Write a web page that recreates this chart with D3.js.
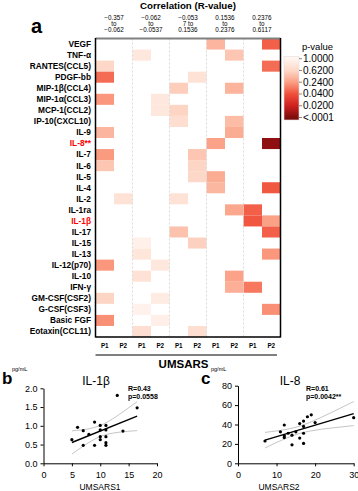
<!DOCTYPE html>
<html>
<head>
<meta charset="utf-8">
<script src="https://cdn.jsdelivr.net/npm/d3@7"></script>
<style>
body { margin: 0; background: #fff; }
svg { display: block; font-family: "Liberation Sans", Arial, sans-serif; }
</style>
</head>
<body>
<div id="chart"></div>
<script>
// rows of the heatmap, top to bottom
const cytokines = ["VEGF","TNF-α","RANTES(CCL5)","PDGF-bb","MIP-1β(CCL4)","MIP-1α(CCL3)","MCP-1(CCL2)","IP-10(CXCL10)","IL-9","IL-8**","IL-7","IL-6","IL-5","IL-4","IL-2","IL-1ra","IL-1β","IL-17","IL-15","IL-13","IL-12(p70)","IL-10","IFN-γ","GM-CSF(CSF2)","G-CSF(CSF3)","Basic FGF","Eotaxin(CCL11)"];
const redLabels = ["IL-8**","IL-1β"];

// R-value bin (0..4) and p-value, vs UMSARS part 1 and part 2
const p1Bin = [3,1,0,0,2,0,2,2,0,3,0,0,3,3,2,4,4,2,1,1,0,1,4,0,1,0,1];
const p1P   = [0.39,0.81,0.62,0.11,0.55,0.22,0.6,0.7,0.39,0.26,0.23,0.5,0.33,0.4,0.75,0.08,0.0558,0.47,0.93,0.8,0.22,0.75,0.14,0.6,0.95,0.2,0.7];
const p2Bin = [4,3,4,2,3,1,1,3,3,4,2,2,2,4,0,3,4,4,2,4,1,3,3,1,4,1,2];
const p2P   = [0.08,0.5,0.11,0.75,0.38,0.81,0.81,0.43,0.33,0.0042,0.5,0.6,0.62,0.06,0.75,0.29,0.25,0.08,0.57,0.22,0.81,0.26,0.34,0.87,0.2,0.92,0.7];

const binLabels = [["−0.357","to","−0.062"],["−0.062","to","−0.0537"],["−0.053","7 to","0.1536"],["0.1536","to","0.2376"],["0.2376","to","0.6117"]];
const parts = ["P1","P2"];

// legend
const pTicks      = [1, 0.62, 0.24, 0.04, 0.02, 0.0001];
const pTickLabels = ["1.0000","0.6200","0.2400","0.0400","0.0200","<.0001"];
const pColors     = ["#fff5f0","#fdd8c8","#fb9f84","#f0503a","#cf2020","#7f0c0c"];

// scatter b: IL-1beta vs UMSARS1
const il1bX = [5,6,7,7,8,9,9,10,10,10,10,11,11,11,11,11,13,14,16.5];
const il1bY = [0.63,0.96,0.87,0.48,0.77,1.10,0.48,1.01,0.89,0.71,0.63,1.01,0.89,0.71,0.55,0.48,1.81,0.86,1.48];
// scatter c: IL-8 vs UMSARS2
const il8X = [7,11,12,12,12,13,14,14,15,16,16,17,17,17,17,18,19,20,30];
const il8Y = [23,32.5,39.5,28.5,26.5,31,29,19,32.5,41,26,43.5,38,31,20.5,48,50,42,47];

const svg = d3.select("#chart").append("svg")
    .attr("width", 358)
    .attr("height", 491);

// ---------- panel a: heatmap ----------
const x = d3.scaleBand().domain(d3.range(10)).range([95.5, 280.5]);
const y = d3.scaleBand().domain(cytokines).range([38.5, 337]);
const color = d3.scaleLinear().domain(pTicks).range(pColors).interpolate(d3.interpolateRgb);

const cells = [];
cytokines.forEach(function(c, i) {
  cells.push({ row: c, col: p1Bin[i] * 2,     p: p1P[i] });
  cells.push({ row: c, col: p2Bin[i] * 2 + 1, p: p2P[i] });
});

svg.append("g").selectAll("rect")
  .data(cells)
  .enter().append("rect")
    .attr("x", d => x(d.col))
    .attr("y", d => y(d.row))
    .attr("width", x.bandwidth())
    .attr("height", y.bandwidth())
    .attr("fill", d => color(d.p));

// dashed lines between the R bins
svg.append("g").selectAll("line")
  .data([2, 4, 6, 8])
  .enter().append("line")
    .attr("x1", d => x(d)).attr("x2", d => x(d))
    .attr("y1", y.range()[0]).attr("y2", y.range()[1])
    .attr("stroke", "#d0d0d0")
    .attr("stroke-width", 0.8)
    .attr("stroke-dasharray", "2,2");

// frame
svg.append("line").attr("x1", 95.5).attr("x2", 280.5).attr("y1", 38.5).attr("y2", 38.5)
  .attr("stroke", "#808080").attr("stroke-width", 2);
svg.append("line").attr("x1", 95.5).attr("x2", 95.5).attr("y1", 38).attr("y2", 337.5)
  .attr("stroke", "#000").attr("stroke-width", 1.5);
svg.append("line").attr("x1", 280.5).attr("x2", 280.5).attr("y1", 38).attr("y2", 337.5)
  .attr("stroke", "#000").attr("stroke-width", 1.5);
svg.append("line").attr("x1", 95.5).attr("x2", 280.5).attr("y1", 337).attr("y2", 337)
  .attr("stroke", "#000").attr("stroke-width", 1.5);

// row labels
svg.append("g").selectAll("text")
  .data(cytokines)
  .enter().append("text")
    .attr("x", 91)
    .attr("y", d => y(d) + y.bandwidth() / 2)
    .attr("dy", "0.35em")
    .attr("text-anchor", "end")
    .style("font-size", "8.3px")
    .style("font-weight", "bold")
    .style("fill", d => redLabels.includes(d) ? "#ff0000" : "#000")
    .text(d => d);

// column headers
svg.append("text").attr("x", 188).attr("y", 9).attr("text-anchor", "middle")
  .style("font-size", "9.7px").style("font-weight", "bold").text("Correlation (R-value)");

binLabels.forEach(function(lines, i) {
  var t = svg.append("text")
    .attr("text-anchor", "middle")
    .style("font-size", "6.3px");
  lines.forEach(function(s, k) {
    t.append("tspan")
      .attr("x", x(i * 2) + x.bandwidth())
      .attr("y", 19.5 + k * 6.2)
      .text(s);
  });
});

svg.append("text").attr("x", 31).attr("y", 33)
  .style("font-size", "20px").style("font-weight", "bold").text("a");

// P1 / P2 under the columns
svg.append("g").selectAll("text")
  .data(d3.range(10))
  .enter().append("text")
    .attr("x", d => x(d) + x.bandwidth() / 2)
    .attr("y", 348.3)
    .attr("text-anchor", "middle")
    .style("font-size", "6.3px")
    .style("font-weight", "bold")
    .text(d => parts[d % 2]);

svg.append("line").attr("x1", 95.5).attr("x2", 277).attr("y1", 355).attr("y2", 355)
  .attr("stroke", "#000").attr("stroke-width", 1);
svg.append("text").attr("x", 183.5).attr("y", 367.5).attr("text-anchor", "middle")
  .style("font-size", "11.5px").style("font-weight", "bold").text("UMSARS");

// legend
const legY = d3.scaleLinear().domain([0, pTicks.length - 1]).range([58.7, 117.5]);
const legTop = 56.5, legBottom = 120;
const grad = svg.append("defs").append("linearGradient")
    .attr("id", "pgrad")
    .attr("x1", 0).attr("x2", 0).attr("y1", 0).attr("y2", 1);
grad.selectAll("stop")
  .data(pColors)
  .enter().append("stop")
    .attr("offset", (d, i) => (legY(i) - legTop) / (legBottom - legTop))
    .attr("stop-color", d => d);

svg.append("rect")
  .attr("x", 284).attr("y", legTop)
  .attr("width", 15).attr("height", legBottom - legTop)
  .attr("fill", "url(#pgrad)")
  .attr("stroke", "#e0e0e0").attr("stroke-width", 0.6);

svg.append("g").selectAll("line")
  .data(pTickLabels)
  .enter().append("line")
    .attr("x1", 299).attr("x2", 302)
    .attr("y1", (d, i) => legY(i)).attr("y2", (d, i) => legY(i))
    .attr("stroke", "#666").attr("stroke-width", 0.8);

svg.append("g").selectAll("text")
  .data(pTickLabels)
  .enter().append("text")
    .attr("x", 303)
    .attr("y", (d, i) => legY(i))
    .attr("dy", "0.35em")
    .style("font-size", "10px")
    .text(d => d);

svg.append("text").attr("x", 317.5).attr("y", 49.5).attr("text-anchor", "middle")
  .style("font-size", "9.5px").text("p-value");

// ---------- panels b and c: scatter with fit and 95% band ----------
function scatter(o) {
  var g = svg.append("g");
  var sx = d3.scaleLinear().domain(o.xDomain).range(o.xRange);
  var sy = d3.scaleLinear().domain(o.yDomain).range(o.yRange);

  var xAxis = g.append("g")
    .attr("transform", "translate(0," + o.yRange[0] + ")")
    .call(d3.axisBottom(sx).tickValues(o.xTicks).tickSize(3).tickSizeOuter(0).tickPadding(5));
  var yAxis = g.append("g")
    .attr("transform", "translate(" + o.xRange[0] + ",0)")
    .call(d3.axisLeft(sy).tickValues(o.yTicks).tickSize(3).tickSizeOuter(0).tickPadding(3)
      .tickFormat(d3.format(o.yFormat)));
  [xAxis, yAxis].forEach(function(a) {
    a.attr("font-family", null).attr("font-size", null);
    a.selectAll("text").style("font-size", "9px").style("fill", "#000");
    a.selectAll("path, line").attr("stroke", "#000");
  });

  // least squares fit
  var n = o.xs.length;
  var mx = d3.mean(o.xs), my = d3.mean(o.ys);
  var sxx = d3.sum(o.xs, v => (v - mx) * (v - mx));
  var sxy = d3.sum(o.xs, (v, i) => (v - mx) * (o.ys[i] - my));
  var b = sxy / sxx, a0 = my - b * mx;
  var sse = d3.sum(o.xs, (v, i) => Math.pow(o.ys[i] - (a0 + b * v), 2));
  var s = Math.sqrt(sse / (n - 2));
  var tCrit = 2.11;
  var xr = d3.extent(o.xs);
  var grid = d3.range(0, 41).map(k => xr[0] + (xr[1] - xr[0]) * k / 40);
  var half = v => tCrit * s * Math.sqrt(1 / n + (v - mx) * (v - mx) / sxx);

  var line = d3.line().x(d => sx(d[0])).y(d => sy(d[1]));
  g.append("path").datum(grid.map(v => [v, a0 + b * v + half(v)]))
    .attr("d", line).attr("fill", "none").attr("stroke", "#9a9a9a").attr("stroke-width", 0.6);
  g.append("path").datum(grid.map(v => [v, a0 + b * v - half(v)]))
    .attr("d", line).attr("fill", "none").attr("stroke", "#9a9a9a").attr("stroke-width", 0.6);
  g.append("path").datum(xr.map(v => [v, a0 + b * v]))
    .attr("d", line).attr("fill", "none").attr("stroke", "#000").attr("stroke-width", 1.4);

  g.selectAll("circle")
    .data(o.xs)
    .enter().append("circle")
      .attr("cx", d => sx(d))
      .attr("cy", (d, i) => sy(o.ys[i]))
      .attr("r", 1.6)
      .attr("fill", "#000");

  g.append("text").attr("x", o.letterX).attr("y", 383.5)
    .style("font-size", "17px").style("font-weight", "bold").text(o.letter);
  g.append("text").attr("x", o.letterX + 10).attr("y", 370.5)
    .style("font-size", "5.5px").text("pg/mL");
  g.append("text").attr("x", o.titleX).attr("y", 385).attr("text-anchor", "middle")
    .style("font-size", "12px").text(o.title);
  g.append("text").attr("x", o.statX).attr("y", 390.5)
    .style("font-size", "7px").style("font-weight", "bold").text(o.rText);
  g.append("text").attr("x", o.statX).attr("y", 399.3)
    .style("font-size", "7px").style("font-weight", "bold").text(o.pText);
  g.append("text").attr("x", o.xLabelX).attr("y", 489.5).attr("text-anchor", "middle")
    .style("font-size", "8.5px").text(o.xLabel);
}

scatter({
  xs: il1bX, ys: il1bY,
  xDomain: [0, 20], xRange: [43.5, 157], xTicks: [0, 5, 10, 15, 20],
  yDomain: [0, 2], yRange: [463.3, 388.3], yTicks: [0, 0.5, 1, 1.5, 2], yFormat: ".1f",
  letter: "b", letterX: 2, title: "IL-1β", titleX: 96,
  statX: 128, rText: "R=0.43", pText: "p=0.0558",
  xLabel: "UMSARS1", xLabelX: 100
});

scatter({
  xs: il8X, ys: il8Y,
  xDomain: [0, 30], xRange: [238, 353.7], xTicks: [0, 10, 20, 30],
  yDomain: [0, 80], yRange: [463.3, 385.7], yTicks: [0, 20, 40, 60, 80], yFormat: "d",
  letter: "c", letterX: 201, title: "IL-8", titleX: 290,
  statX: 306, rText: "R=0.61", pText: "p=0.0042**",
  xLabel: "UMSARS2", xLabelX: 279
});
</script>
</body>
</html>
